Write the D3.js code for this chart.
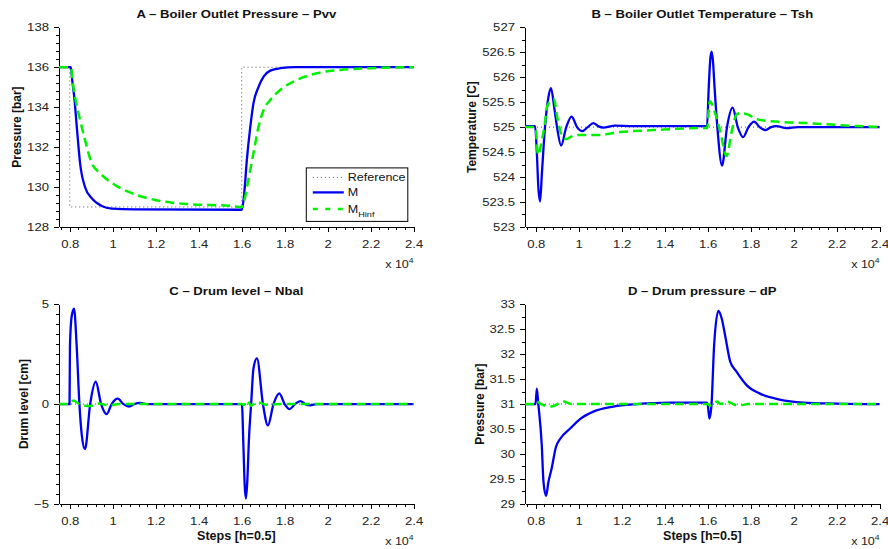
<!DOCTYPE html>
<html>
<head>
<meta charset="utf-8">
<title>Boiler responses</title>
<script src="https://cdnjs.cloudflare.com/ajax/libs/d3/7.8.5/d3.min.js"></script>
<style>
body { margin: 0; background: #fff; }
svg { display: block; font-family: "Liberation Sans", Arial, sans-serif; }
.axis path, .axis line { stroke: #000; shape-rendering: crispEdges; }
.axis text { font-size: 11.5px; fill: #222; }
.title { font-size: 11.5px; font-weight: bold; fill: #111; }
.ylabel, .xlabel { font-size: 12px; font-weight: bold; fill: #111; }
.legend text { font-size: 11px; fill: #111; }
</style>
</head>
<body>
<div id="chart"></div>
<script>
// x in simulation steps, shown as x 10^4
var xDomain = [7500, 24000];
var xTicks = [8000, 10000, 12000, 14000, 16000, 18000, 20000, 22000, 24000];

// A - boiler outlet pressure
var pvvTicks = [128, 130, 132, 134, 136, 138];
var pvvRef = [[7500, 136], [8000, 129], [16000, 136], [24000, 136]];
var pvvM = [[7500, 136], [8050, 136], [8120, 135.3], [8210, 134.5], [8340, 132.86], [8480, 131.2],
  [8710, 130.0], [9020, 129.44], [9490, 129.05], [9960, 128.92], [11000, 128.88], [16010, 128.86],
  [16120, 129.7], [16240, 131.35], [16400, 133.0], [16550, 134.2], [16780, 135.0], [17020, 135.53],
  [17330, 135.83], [17790, 135.95], [18500, 136], [24000, 136]];
var pvvHinf = [[7500, 136], [8060, 136], [8130, 135.3], [8250, 134.5], [8480, 133.36], [8710, 132.36],
  [9020, 131.2], [9410, 130.69], [10110, 130.1], [10890, 129.69], [11970, 129.35], [13520, 129.14],
  [15540, 129.05], [16010, 129.0], [16160, 129.5], [16310, 130.35], [16550, 131.7], [16780, 133.0],
  [17020, 133.86], [17330, 134.36], [17790, 134.86], [18570, 135.36], [19500, 135.7], [20590, 135.86],
  [21980, 135.95], [24000, 136]];

// B - boiler outlet temperature
var tshTicks = [523, 523.5, 524, 524.5, 525, 525.5, 526, 526.5, 527];
var tshRef = [[7500, 525], [24000, 525]];
var tshM = [[7500, 525.02], [7970, 525.02], [8050, 524.5], [8120, 523.8], [8200, 523.51], [8290, 524.1],
  [8430, 525.0], [8590, 525.6], [8710, 525.78], [8870, 525.36], [8990, 525.0], [9180, 524.63],
  [9420, 525.0], [9670, 525.21], [9920, 525.0], [10170, 524.92], [10420, 525.0], [10680, 525.08],
  [10900, 525.02], [11140, 524.99], [11690, 525.03], [12500, 525.02], [15970, 525.02], [16050, 525.8],
  [16130, 526.4], [16190, 526.51], [16250, 526.3], [16320, 525.8], [16450, 525.0], [16670, 524.23],
  [16900, 525.0], [17160, 525.39], [17400, 525.0], [17650, 524.8], [17900, 525.0], [18160, 525.11],
  [18420, 525.0], [18690, 524.94], [18950, 525.0], [19200, 525.02], [19660, 524.98], [20200, 525.0],
  [24000, 525.0]];
var tshHinf = [[7500, 525], [8000, 525], [8060, 524.6], [8120, 524.44], [8220, 524.6], [8400, 525.0],
  [8560, 525.45], [8850, 525.56], [9000, 525.2], [9250, 524.8], [9440, 524.76], [9600, 524.8],
  [9980, 524.84], [10840, 524.84], [11920, 524.9], [13470, 524.94], [15640, 524.98], [15980, 524.98],
  [16040, 525.3], [16100, 525.52], [16330, 525.3], [16570, 524.94], [16880, 524.42], [17110, 524.9],
  [17340, 525.25], [17500, 525.28], [17880, 525.25], [18270, 525.16], [19200, 525.11], [20590, 525.08],
  [22140, 525.04], [24000, 525.0]];

// C - drum level
var nbalTicks = [-5, 0, 5];
var nbalRef = [[7500, 0], [24000, 0]];
var nbalM = [[7500, 0], [7990, 0], [8010, 2.9], [8090, 4.4], [8200, 4.78], [8320, 2.96], [8450, 0],
  [8560, -1.55], [8710, -2.26], [8950, 0], [9210, 1.12], [9460, 0], [9720, -0.5], [9950, 0],
  [10230, 0.27], [10500, 0], [10760, -0.12], [11000, 0], [11270, 0.06], [11600, 0], [16010, 0],
  [16080, -2.06], [16140, -4.06], [16200, -4.73], [16260, -3.9], [16340, -1.72], [16440, 0],
  [16550, 1.79], [16710, 2.29], [16990, 0], [17220, -1.07], [17480, 0], [17750, 0.54], [18000, 0],
  [18230, -0.25], [18480, 0], [18730, 0.15], [18960, 0], [19190, -0.06], [19500, 0], [24000, 0]];
var nbalHinf = [[7500, 0], [8000, 0], [8170, 0.18], [8450, 0], [8950, -0.1], [9310, 0.03], [9810, -0.06],
  [10300, 0], [16000, 0], [16100, -0.05], [16250, 0.18], [16440, -0.08], [16710, 0.1], [17150, -0.03],
  [17800, 0], [24000, 0]];

// D - drum pressure
var dpTicks = [29, 29.5, 30, 30.5, 31, 31.5, 32, 32.5, 33];
var dpRef = [[7500, 31], [24000, 31]];
var dpM = [[7500, 31.0], [7990, 31.0], [8050, 31.31], [8120, 31.0], [8280, 30.18], [8360, 29.44],
  [8480, 29.16], [8590, 29.44], [8740, 29.71], [8940, 30.14], [9130, 30.3], [9600, 30.51],
  [10060, 30.7], [10680, 30.85], [11610, 30.95], [12700, 31.0], [14240, 31.03], [15950, 31.03],
  [16000, 31.0], [16080, 30.71], [16180, 31.0], [16300, 32.18], [16500, 32.87], [16650, 32.72],
  [16810, 32.38], [17050, 31.85], [17340, 31.65], [17810, 31.38], [18430, 31.21], [19350, 31.09],
  [20450, 31.03], [22000, 31.01], [24000, 31.0]];
var dpHinf = [[7500, 31.0], [8000, 31.0], [8050, 31.05], [8250, 31.0], [8740, 30.95], [9280, 31.05],
  [9700, 31.0], [16000, 31.0], [16100, 30.97], [16450, 31.05], [16600, 31.0], [16880, 31.05],
  [17420, 30.97], [17900, 31.0], [24000, 31.0]];

var legendNames = ['Reference', 'M', 'M'];

var panels = [
  {title: 'A \u2013 Boiler Outlet Pressure \u2013 Pvv', ylabel: 'Pressure [bar]', yDomain: [128, 138],
   yTicks: pvvTicks, yMinor: 0.4, ref: pvvRef, refStep: true, m: pvvM, h: pvvHinf, col: 0, row: 0, legend: true},
  {title: 'B \u2013 Boiler Outlet Temperature \u2013 Tsh', ylabel: 'Temperature [C]', yDomain: [523, 527],
   yTicks: tshTicks, yMinor: 0.25, ref: tshRef, m: tshM, h: tshHinf, col: 1, row: 0},
  {title: 'C \u2013 Drum level \u2013 Nbal', ylabel: 'Drum level [cm]', yDomain: [-5, 5],
   yTicks: nbalTicks, yMinor: 0.5, ref: nbalRef, m: nbalM, h: nbalHinf, col: 0, row: 1, xlabel: 'Steps [h=0.5]'},
  {title: 'D \u2013 Drum pressure \u2013 dP', ylabel: 'Pressure [bar]', yDomain: [29, 33],
   yTicks: dpTicks, yMinor: 0.25, ref: dpRef, m: dpM, h: dpHinf, col: 1, row: 1, xlabel: 'Steps [h=0.5]'}
];

var W = 888, H = 549;
var stretch = 1.14;   // text in the picture is a bit wide
var colLeft = [59, 525], plotW = 354.6;
var rowTop = [27.3, 304.3], plotH = 199.6;
var blue = '#0000f0', green = '#00f000', refColor = '#555';

function every(lo, hi, step) {
  var n = Math.round((hi - lo) / step);
  return d3.range(n + 1).map(function(i) { return +(lo + i * step).toFixed(6); });
}

var svg = d3.select('#chart').append('svg').attr('width', W).attr('height', H);

panels.forEach(function(p) {
  var left = colLeft[p.col], top = rowTop[p.row];
  var x = d3.scaleLinear().domain(xDomain).range([0, plotW]);
  var y = d3.scaleLinear().domain(p.yDomain).range([plotH, 0]);
  var g = svg.append('g').attr('transform', 'translate(' + left + ',' + top + ')');

  // minor ticks
  g.append('g').attr('class', 'axis').attr('transform', 'translate(0,' + plotH + ')')
    .call(d3.axisBottom(x).tickValues(d3.range(7600, 24001, 400)).tickSize(3).tickFormat(''))
    .call(function(a) { a.select('.domain').remove(); });
  g.append('g').attr('class', 'axis')
    .call(d3.axisLeft(y).tickValues(every(p.yDomain[0], p.yDomain[1], p.yMinor)).tickSize(3).tickFormat(''))
    .call(function(a) { a.select('.domain').remove(); });

  var xa = g.append('g').attr('class', 'axis').attr('transform', 'translate(0,' + plotH + ')')
    .call(d3.axisBottom(x).tickValues(xTicks).tickSize(5).tickSizeOuter(0).tickPadding(8)
      .tickFormat(function(d) { return d3.format('~g')(d / 1e4); }));
  xa.selectAll('text').attr('transform', 'scale(' + stretch + ',1)');

  var ya = g.append('g').attr('class', 'axis')
    .call(d3.axisLeft(y).tickValues(p.yTicks).tickSize(5).tickSizeOuter(0).tickPadding(3.8)
      .tickFormat(d3.format('~g')));
  ya.selectAll('text').attr('transform', 'scale(' + stretch + ',1)');
  svg.selectAll('.axis text').style('font-family', '"Liberation Sans", Arial, sans-serif');

  var line = d3.line().x(function(d) { return x(d[0]); }).y(function(d) { return y(d[1]); })
    .curve(d3.curveMonotoneX);
  var stepLine = d3.line().x(function(d) { return x(d[0]); }).y(function(d) { return y(d[1]); })
    .curve(d3.curveStepAfter);

  g.append('path').attr('d', (p.refStep ? stepLine : line)(p.ref))
    .attr('fill', 'none').attr('stroke', refColor).attr('stroke-width', 1).attr('stroke-dasharray', '1,3');
  g.append('path').attr('d', line(p.m))
    .attr('fill', 'none').attr('stroke', blue).attr('stroke-width', 2.3);
  g.append('path').attr('d', line(p.h))
    .attr('fill', 'none').attr('stroke', green).attr('stroke-width', 2.5).attr('stroke-dasharray', '9,5');

  // title
  g.append('text').attr('class', 'title').attr('text-anchor', 'middle')
    .attr('transform', 'translate(' + plotW / 2 + ',-9.5) scale(' + stretch + ',1)')
    .text(p.title);

  // y label, to the left of the tick labels
  var bb = ya.node().getBBox();
  g.append('text').attr('class', 'ylabel').attr('text-anchor', 'middle')
    .attr('transform', 'translate(' + (bb.x - 10) + ',' + plotH / 2 + ') rotate(-90)')
    .attr('dy', '0.35em').text(p.ylabel);

  // x 10^4
  var ex = g.append('text').attr('text-anchor', 'end').style('font-size', '11px').attr('fill', '#222')
    .attr('transform', 'translate(' + plotW + ',' + (plotH + 41.5) + ') scale(' + stretch + ',1)');
  ex.append('tspan').text('x 10');
  ex.append('tspan').attr('dy', -5).style('font-size', '7.5px').text('4');

  if (p.xlabel) {
    g.append('text').attr('class', 'xlabel').attr('text-anchor', 'middle')
      .attr('transform', 'translate(' + plotW / 2 + ',' + (plotH + 36) + ') scale(' + (stretch * 0.92) + ',1)')
      .text(p.xlabel);
  }

  if (p.legend) {
    var lw = 101.5, lh = 53.5;
    var lg = g.append('g').attr('class', 'legend')
      .attr('transform', 'translate(' + (plotW - 5.8 - lw) + ',' + (plotH - 5.5 - lh) + ')');
    lg.append('rect').attr('width', lw).attr('height', lh)
      .attr('fill', '#fff').attr('stroke', '#000').attr('stroke-width', 1);
    var styles = [
      {stroke: refColor, width: 1, dash: '1,3'},
      {stroke: blue, width: 2.3, dash: null},
      {stroke: green, width: 2.5, dash: '5,7.5'}
    ];
    var rowsY = [9.5, 24.5, 41];
    legendNames.forEach(function(name, i) {
      lg.append('line').attr('x1', 6.5).attr('x2', 37.5).attr('y1', rowsY[i]).attr('y2', rowsY[i])
        .attr('stroke', styles[i].stroke).attr('stroke-width', styles[i].width)
        .attr('stroke-dasharray', styles[i].dash);
      var t = lg.append('text')
        .attr('transform', 'translate(41.5,' + (rowsY[i] + 4) + ') scale(' + stretch + ',1)');
      t.append('tspan').text(name);
      if (i === 2) t.append('tspan').attr('dy', 4.5).style('font-size', '8px').text('Hinf');
    });
  }
});
</script>
</body>
</html>
